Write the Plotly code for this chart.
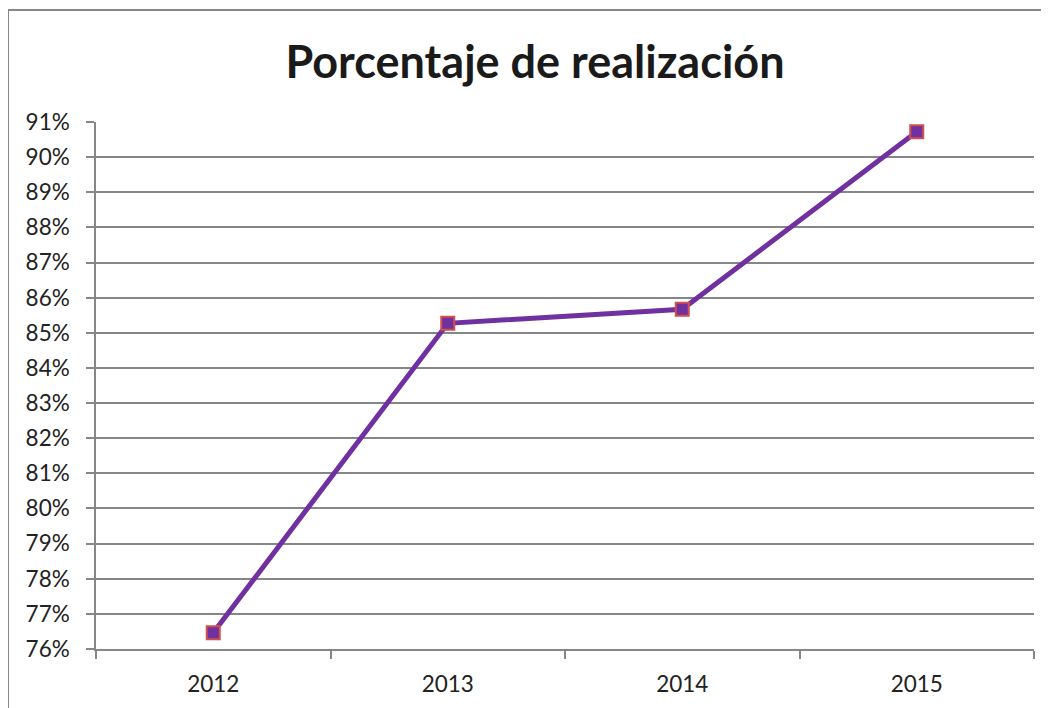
import plotly.graph_objects as go

years = ["2012", "2013", "2014", "2015"]
realizacion = [0.7646, 0.8527, 0.8567, 0.9072]
y_ticks = [0.76 + i * 0.01 for i in range(16)]
y_tick_labels = [f"{76 + i}%" for i in range(16)]

# page body has an 8px margin, so figure coordinates are offset by 8px
OFF = 8
W, H = 1049 - OFF, 708 - OFF
L, R, T, B = 96 - OFF, 1034 - OFF, 122 - OFF, 649 - OFF

fig = go.Figure()
fig.add_trace(go.Scatter(
    x=years, y=realizacion, mode="lines+markers",
    line=dict(color="#7030A0", width=5),
    marker=dict(symbol="square", size=13, color="#7030A0",
                line=dict(color="#D0504D", width=2)),
    showlegend=False, hoverinfo="x+y",
))

fig.update_layout(
    width=W, height=H,
    margin=dict(l=L, r=W - R, t=T, b=H - B, pad=0),
    paper_bgcolor="white", plot_bgcolor="white",
    font=dict(family="Lato, Carlito, sans-serif", color="#222222", size=22),
    title=dict(text="<b>Porcentaje de realización</b>",
               x=(535 - OFF) / W, xref="container", xanchor="center",
               y=1 - (62 - OFF) / H, yref="container", yanchor="middle",
               font=dict(size=45, color="#1a1a1a")),
    xaxis=dict(type="category", tickson="boundaries", ticks="outside",
               ticklen=8, tickcolor="#868686", tickwidth=1.5,
               showgrid=False, showline=True, linecolor="#868686", linewidth=1.5,
               tickfont=dict(size=22.5, color="#222222"), range=[-0.5, 3.5],
               ticklabelstandoff=14, fixedrange=True),
    yaxis=dict(range=[0.76, 0.91], tickvals=y_ticks, ticktext=y_tick_labels,
               ticks="outside", ticklen=8, tickcolor="#868686", tickwidth=1.5,
               showgrid=True, gridcolor="#868686", gridwidth=1.5,
               showline=True, linecolor="#868686", linewidth=1.5,
               zeroline=False, tickfont=dict(size=22.5, color="#222222"),
               ticklabelstandoff=12, fixedrange=True),
)

# chart outer border (left and top edges visible)
bx = (8 - 96) / (1034 - 96)
by = (649 - 10) / (649 - 122)
fig.add_shape(type="line", xref="paper", yref="paper", x0=bx, x1=bx, y0=by, y1=-0.2,
              line=dict(color="#868686", width=2))
fig.add_shape(type="line", xref="paper", yref="paper", x0=bx, x1=1.05, y0=by, y1=by,
              line=dict(color="#868686", width=2))

fig.write_html("out.html")
